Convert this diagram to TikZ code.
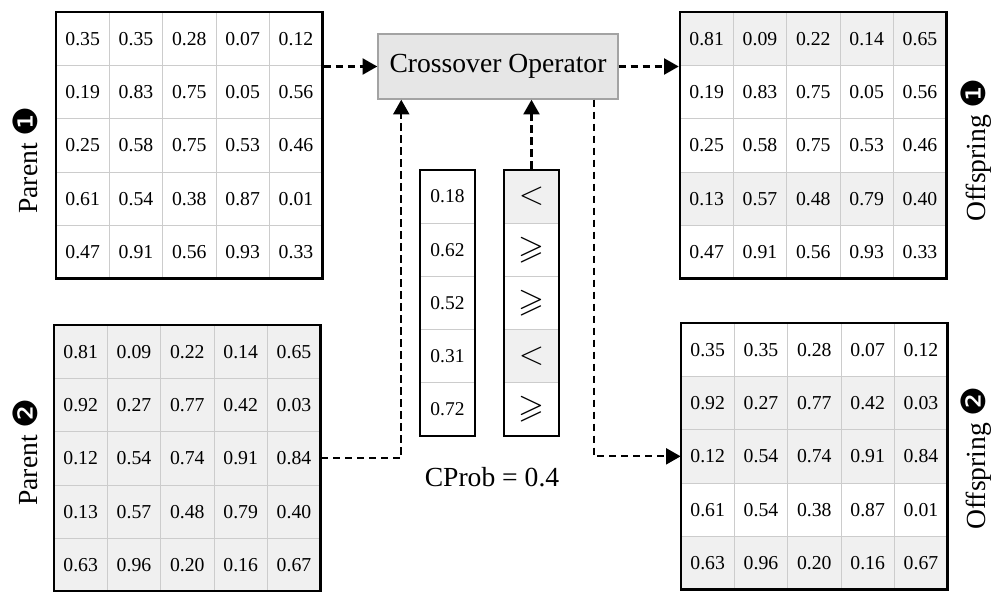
\documentclass[tikz,border=0pt]{standalone}
\usepackage{amssymb}
\usepackage{fontspec}
\setmainfont{Liberation Serif}
\newfontfamily\dvsans{DejaVu Sans}
\usetikzlibrary{arrows.meta,calc}
\definecolor{cellgray}{HTML}{F0F0F0}
\definecolor{gridgray}{HTML}{CCCCCC}
\definecolor{xofill}{HTML}{E6E6E6}
\definecolor{xodraw}{HTML}{A3A3A3}
\newcommand{\numcirc}[1]{{\dvsans\fontsize{25}{25}\selectfont #1}}
\tikzset{
  cell/.style={draw=gridgray, line width=0.5pt, minimum size=40pt, inner sep=0pt,
    font=\fontsize{14.8}{14.8}\selectfont},
  matbox/.style={draw=black, line width=1.9pt, minimum size=200pt, inner sep=0pt},
  colcell/.style={draw=gridgray, line width=0.5pt, minimum width=41.25pt, minimum height=39.9pt,
    inner sep=0pt, font=\fontsize{14.6}{14.6}\selectfont},
  ltcell/.style={colcell, font=\fontsize{32}{32}\selectfont},
  gecell/.style={colcell, font=\fontsize{25}{25}\selectfont},
  colbox/.style={draw=black, line width=1.9pt, minimum width=41.25pt, minimum height=199.5pt, inner sep=0pt},
  xobox/.style={draw=xodraw, fill=xofill, line width=1.1pt, minimum width=180pt, minimum height=48.75pt,
    inner sep=0pt, font=\fontsize{20.7}{20.7}\selectfont},
  biglabel/.style={font=\fontsize{20.7}{20.7}\selectfont, inner sep=0pt},
  sidelabel/.style={biglabel, rotate=90},
  flow/.style={line width=1.7pt, dash pattern=on 5.5pt off 3.5pt, -{Triangle[length=11pt,width=12pt]}}
}
\newcommand{\mymatrix}[4]{%
  \foreach \f/\a/\b/\cc/\d/\e [count=\r] in {#4} {
    \foreach \v [count=\c] in {\a,\b,\cc,\d,\e} {
      \node[cell, fill=\f] (#1-\r-\c) at ({#2+(\c-0.5)*53.333},{#3+(\r-0.5)*53.333}) {\v};
    }
  }
  \node[matbox] (#1) at ({#2+133.333},{#3+133.333}) {};
}
\begin{document}
\begin{tikzpicture}[x=0.75pt, y=-0.75pt]
\useasboundingbox (0,0) rectangle (995,592);
\fill[white] (0,0) rectangle (995,592);

% Parent 1
\mymatrix{p1}{56}{12}{white/0.35/0.35/0.28/0.07/0.12, white/0.19/0.83/0.75/0.05/0.56, white/0.25/0.58/0.75/0.53/0.46, white/0.61/0.54/0.38/0.87/0.01, white/0.47/0.91/0.56/0.93/0.33}
% Parent 2
\mymatrix{p2}{54}{325}{cellgray/0.81/0.09/0.22/0.14/0.65, cellgray/0.92/0.27/0.77/0.42/0.03, cellgray/0.12/0.54/0.74/0.91/0.84, cellgray/0.13/0.57/0.48/0.79/0.40, cellgray/0.63/0.96/0.20/0.16/0.67}
% Offspring 1
\mymatrix{o1}{680}{12}{cellgray/0.81/0.09/0.22/0.14/0.65, white/0.19/0.83/0.75/0.05/0.56, white/0.25/0.58/0.75/0.53/0.46, cellgray/0.13/0.57/0.48/0.79/0.40, white/0.47/0.91/0.56/0.93/0.33}
% Offspring 2
\mymatrix{o2}{681}{323}{white/0.35/0.35/0.28/0.07/0.12, cellgray/0.92/0.27/0.77/0.42/0.03, cellgray/0.12/0.54/0.74/0.91/0.84, white/0.61/0.54/0.38/0.87/0.01, cellgray/0.63/0.96/0.20/0.16/0.67}

% random column
\foreach \v [count=\i] in {0.18,0.62,0.52,0.31,0.72} {
  \node[colcell, fill=white] (rc-\i) at (447.5,{170+(\i-0.5)*53.2}) {\v};
}
\node[colbox] (rcol) at (447.5,303) {};
% comparison column
\foreach \f/\st/\s [count=\i] in {cellgray/ltcell/$<$, white/gecell/$\geqslant$, white/gecell/$\geqslant$, cellgray/ltcell/$<$, white/gecell/$\geqslant$} {
  \node[\st, fill=\f] (cc-\i) at (531.5,{170+(\i-0.5)*53.2}) {\s};
}
\node[colbox] (ccol) at (531.5,303) {};

% crossover operator
\node[xobox] (xo) at (498,66.5) {Crossover Operator};
\node[biglabel] (cprob) at (492,477) {CProb = 0.4};

% side labels
\node[sidelabel] (lp1) at (25,160) {Parent \numcirc{❶}};
\node[sidelabel] (lp2) at (25,452) {Parent \numcirc{❷}};
\node[sidelabel] (lo1) at (976,150) {Offspring \numcirc{❶}};
\node[sidelabel] (lo2) at (976,458) {Offspring \numcirc{❷}};

% connectors
\coordinate (xoin) at ([xshift=18pt]xo.south west);
\coordinate (xoout) at ([xshift=-18.75pt]xo.south east);
\draw[flow] (p1.east |- xo.west) -- (xo.west);
\draw[flow] (xo.east) -- (o1.west |- xo.east);
\draw[flow] (p2-3-5.east) -| (xoin);
\draw[flow] (ccol.north) -- (ccol.north |- xo.south);
\draw[flow] (xoout) |- (o2-3-1.west);
\end{tikzpicture}
\end{document}
